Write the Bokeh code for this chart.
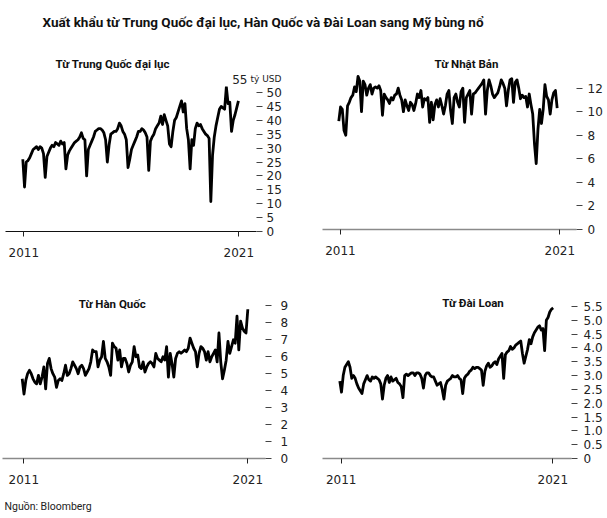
from bokeh.plotting import figure
from bokeh.models import Range1d, FixedTicker, Label
from bokeh.layouts import column, row
from bokeh.embed import file_html
from bokeh.resources import INLINE

TITLE = "Xuất khẩu từ Trung Quốc đại lục, Hàn Quốc và Đài Loan sang Mỹ bùng nổ"
SOURCE = "Nguồn: Bloomberg"
PANEL_TITLES = ["Từ Trung Quốc đại lục", "Từ Nhật Bản", "Từ Hàn Quốc", "Từ Đài Loan"]
X_TICK_LABELS = ["2011", "2021"]
UNIT_LABEL = "tỷ USD"

# monthly, Jan 2011 .. Jun 2021 (126 months), billion USD
months = [2011 + i / 12 for i in range(126)]

china = [
    26, 16, 25, 25.5, 26.5, 28, 29.5, 30, 30.5, 29.5, 30.5, 30,
    28, 19.5, 27, 28.5, 30, 31, 30.5, 32, 31.5, 31, 32.5, 31.5,
    32, 22.5, 27.5, 29, 30, 31, 32, 32.5, 33, 34, 35.5, 33.5,
    33, 20, 29.5, 31, 32.5, 34, 36, 36.5, 37, 37, 36.5, 35.5,
    33, 25, 31, 35, 35.5, 36, 36, 37, 39, 38, 36, 35,
    33, 23, 26, 29.5, 31, 32.5, 34, 36, 36, 37, 36.5, 35.5,
    34, 22, 32.5, 34, 35, 37, 38, 39, 41.5, 38.5, 42, 40,
    38, 31.5, 30.5, 36, 40, 41, 43, 45, 47, 43, 46, 37,
    33, 22.5, 33, 31, 37, 39, 38, 38.5, 37, 36, 35, 34.5,
    33.5, 10.8, 27.5, 34, 38, 41, 44, 45, 44.5, 44, 52, 46,
    46.5, 36, 40, 42, 44.5, 47,
]

japan = [
    9.2, 10.4, 10.2, 8.4, 8.0, 10.5, 10.8, 11.2, 11.4, 12.1, 11.7, 13.0,
    12.6, 10.0, 12.6, 12.3, 11.4, 12.0, 12.3, 11.5, 12.0, 12.1, 12.0, 12.2,
    11.8, 9.7, 11.5, 11.2, 11.0, 10.7, 11.2, 11.0, 11.4, 11.5, 12.0, 11.4,
    11.0, 10.0, 11.0, 10.5, 10.1, 10.8, 10.6, 10.1, 10.7, 11.5, 11.2, 11.8,
    10.4, 11.1, 11.0, 11.2, 9.1, 10.8, 9.3, 10.6, 11.0, 10.4, 11.1, 10.5,
    9.8, 10.5, 11.5, 11.8, 10.1, 9.0, 11.2, 11.5, 10.8, 10.4, 11.7, 12.0,
    9.1, 11.2, 11.5, 11.8, 9.8, 11.5, 11.6, 11.8, 12.0, 12.2, 12.4, 12.7,
    9.8, 11.8, 12.7, 12.2, 11.5, 11.2, 11.4, 11.6, 12.1, 12.7, 12.4, 12.0,
    10.5, 11.8, 12.7, 12.8, 10.8, 12.5, 12.7, 12.0, 11.1, 11.4, 11.2, 11.3,
    10.4, 11.5, 10.6, 9.8, 7.3, 5.6, 8.5, 10.2, 9.0, 10.2, 12.3, 11.3,
    11.0, 9.8, 11.0, 11.6, 11.8, 10.3,
]

korea = [
    4.7, 3.8, 4.6, 5.0, 5.2, 5.0, 4.7, 4.5, 4.4, 4.9, 4.4, 4.8,
    5.4, 4.1, 5.6, 5.9, 5.3, 5.0, 4.8, 4.2, 4.6, 4.7, 4.6, 5.0,
    5.5, 4.9, 5.0, 5.3, 5.7, 5.5, 5.3, 5.0, 5.4, 5.5, 5.3, 4.9,
    5.1, 5.3, 5.7, 6.4, 6.3, 6.3, 5.4, 5.8, 6.0, 6.9, 5.9, 5.7,
    5.4, 4.9, 6.8, 6.6, 6.5, 5.8, 6.4, 5.4, 5.9, 5.9, 5.6, 5.1,
    5.5, 5.7, 6.6, 6.0, 6.1, 5.4, 5.3, 5.7, 5.1, 5.4, 5.6, 5.7,
    5.6, 5.4, 6.2, 5.9, 5.8, 5.7, 6.0, 5.8, 6.6, 4.8, 6.2, 5.6,
    4.8, 5.9, 6.2, 6.3, 6.2, 6.3, 6.4, 6.3, 6.5, 7.1, 6.8, 6.5,
    6.3, 5.4, 6.2, 6.6, 6.5, 6.3, 5.8, 6.3, 5.7, 6.0, 6.2, 6.4,
    5.7, 7.4, 5.7, 4.7, 5.2, 5.8, 6.9, 6.2, 6.6, 7.0, 6.8, 8.4,
    6.4, 8.1, 7.7, 7.5, 7.4, 8.8,
]

taiwan = [
    2.8, 2.4, 3.0, 3.3, 3.4, 3.5, 3.3, 2.9, 3.0, 2.9, 2.7, 2.55,
    2.45, 2.35, 2.7, 2.85, 3.0, 2.85, 2.8, 2.95, 2.9, 2.95, 2.9, 2.85,
    2.7, 2.15, 2.65, 2.9, 3.0, 2.75, 2.95, 2.8, 2.85, 2.9, 2.75, 2.7,
    2.6, 2.2, 3.0, 3.05, 3.0, 3.05, 3.1, 3.1, 3.0, 3.1, 3.1, 3.05,
    2.9, 2.55, 3.0, 3.1, 3.1, 3.0, 2.95, 2.95, 2.8, 2.65, 2.7, 2.75,
    2.5, 2.15, 2.65, 2.8, 2.85, 2.9, 3.0, 2.95, 2.95, 3.0, 2.9, 2.85,
    2.35, 2.9, 3.0, 3.05, 3.15, 3.2, 3.3, 3.25, 3.3, 3.3, 3.25, 3.2,
    2.65, 3.15, 3.35, 3.45, 3.3, 3.35, 3.45, 3.5, 3.4, 3.6, 3.7, 3.8,
    2.9, 3.75, 3.85, 3.9, 4.05, 3.95, 4.0, 4.1, 4.15, 4.2, 4.25, 3.8,
    3.45, 3.7, 3.95, 4.3, 4.15, 4.4, 4.55, 4.65, 4.75, 4.8, 4.65, 4.7,
    3.9, 5.0, 5.1, 5.3, 5.4, 5.45,
]

china_ticks = [0, 5, 10, 15, 20, 25, 30, 35, 40, 45, 50]
china_tick_labels = ["0", "5", "10", "15", "20", "25", "30", "35", "40", "45", "50"]
china_top = 55
japan_ticks = [0, 2, 4, 6, 8, 10, 12]
japan_tick_labels = ["0", "2", "4", "6", "8", "10", "12"]
korea_ticks = [0, 1, 2, 3, 4, 5, 6, 7, 8, 9]
korea_tick_labels = ["0", "1", "2", "3", "4", "5", "6", "7", "8", "9"]
taiwan_ticks = [0, 0.5, 1, 1.5, 2, 2.5, 3, 3.5, 4, 4.5, 5, 5.5]
taiwan_tick_labels = ["0", "0.5", "1.0", "1.5", "2.0", "2.5", "3.0", "3.5", "4.0", "4.5", "5.0", "5.5"]

TICK_FONT = "DejaVu Sans"
TITLE_FONT = "Roboto"
TXT = "#222222"
FIX = 3.5  # labels render a little below the requested baseline


def strip(left, top, w, h):
    """A text-only figure whose data coordinates equal page pixels (y negated)."""
    f = figure(width=w, height=h, min_border=0,
               x_range=Range1d(left, left + w), y_range=Range1d(-(top + h), -top),
               x_axis_type=None, y_axis_type=None, toolbar_location=None,
               output_backend="svg")
    f.outline_line_color = None
    return f


def text(fig, x, y, s, font, size, bold=False):
    fig.add_layout(Label(x=x, y=y, text=s, text_font=font, text_font_size=size,
                         text_font_style="bold" if bold else "normal",
                         text_color="#111111" if bold else TXT,
                         text_align="left", text_baseline="alphabetic"))


def make_panel(values, ticks, tick_labels, spec):
    cl, cw, ct, ch = spec["canvas"]
    fl, fr, ft, fb = spec["frame"]
    x0, k, yb, s = spec["x0"], spec["k"], spec["yb"], spec["s"]

    def dx(px):
        return 2011 + (px - x0) / k / 12

    def dy(py):
        return (yb - py) / s

    p = figure(width=cw, height=ch,
               min_border_left=fl - cl, min_border_right=cl + cw - fr,
               min_border_top=ft - ct, min_border_bottom=ct + ch - fb,
               x_range=Range1d(dx(fl), dx(fr)), y_range=Range1d(0, dy(ft)),
               y_axis_location="right", toolbar_location=None,
               output_backend="svg")
    p.outline_line_color = None
    p.grid.visible = False

    p.line(months, values, line_width=2.8, line_color="black", line_join="round")

    xt = [dx(spec["xt"][0]), dx(spec["xt"][1])]
    xa = p.xaxis[0]
    xa.ticker = FixedTicker(ticks=xt)
    xa.major_label_overrides = {xt[0]: X_TICK_LABELS[0], xt[1]: X_TICK_LABELS[1]}
    xa.axis_line_color = spec["axis_color"]
    xa.axis_line_width = spec["axis_width"]
    xa.major_tick_line_color = "#222222"
    xa.major_tick_out = 5
    xa.major_tick_in = 0
    xa.minor_tick_line_color = None
    xa.major_label_standoff = 11
    xa.major_label_text_font = TICK_FONT
    xa.major_label_text_font_size = "12px"
    xa.major_label_text_color = TXT

    ya = p.yaxis[0]
    ya.ticker = FixedTicker(ticks=ticks)
    ya.major_label_overrides = {t: l for t, l in zip(ticks, tick_labels)}
    ya.axis_line_color = None
    ya.major_tick_line_color = "#444444"
    ya.major_tick_out = 6
    ya.major_tick_in = 0
    ya.minor_tick_line_color = None
    ya.major_label_standoff = spec["standoff"]
    ya.major_label_text_font = TICK_FONT
    ya.major_label_text_font_size = "12px"
    ya.major_label_text_color = TXT
    ya.major_label_text_align = "left"
    p._dx, p._dy = dx, dy
    return p


spec1 = dict(canvas=(0, 300, 86, 180), frame=(5, 256, 86, 231), x0=22.3, k=1.725,
             yb=231, s=2.78, xt=(23.3, 238.3), standoff=4, axis_color="#111111",
             axis_width=1)
spec2 = dict(canvas=(300, 306, 70, 196), frame=(322, 576, 70, 229), x0=338.3, k=1.747,
             yb=229, s=11.78, xt=(340, 559.3), standoff=5, axis_color="#8a8a8a",
             axis_width=1.5)
spec3 = dict(canvas=(0, 300, 266, 224), frame=(2, 265, 294, 458), x0=21.7, k=1.805,
             yb=458, s=16.96, xt=(23.3, 247.3), standoff=9, axis_color="#8a8a8a",
             axis_width=1.5)
spec4 = dict(canvas=(300, 306, 266, 224), frame=(322, 571, 294, 458), x0=339.3, k=1.707,
             yb=458, s=27.64, xt=(340.7, 552.3), standoff=6, axis_color="#8a8a8a",
             axis_width=1.5)

p1 = make_panel(china, china_ticks, china_tick_labels, spec1)
p2 = make_panel(japan, japan_ticks, japan_tick_labels, spec2)
p3 = make_panel(korea, korea_ticks, korea_tick_labels, spec3)
p4 = make_panel(taiwan, taiwan_ticks, taiwan_tick_labels, spec4)

# header with the main title
header = strip(0, 0, 606, 36)
text(header, 42, -(25 - FIX), TITLE, TITLE_FONT, "13.5px", bold=True)

# strips above the top panels (panel titles and the unit label)
t1 = strip(0, 36, 300, 50)
text(t1, 55, -(67 - FIX), PANEL_TITLES[0], TITLE_FONT, "11.5px", bold=True)
text(t1, 231.7, -(82.3 - FIX), str(china_top), TICK_FONT, "12px")
text(t1, 250, -(82.3 - FIX), UNIT_LABEL, TICK_FONT, "9px")

t2 = strip(300, 36, 306, 34)
text(t2, 434, -(66.5 - FIX), PANEL_TITLES[1], TITLE_FONT, "11.5px", bold=True)

# titles of the lower panels sit inside their frames
text(p3, p3._dx(78.3), p3._dy(307 - FIX), PANEL_TITLES[2], TITLE_FONT, "11.5px", bold=True)
text(p4, p4._dx(441.7), p4._dy(306 - FIX), PANEL_TITLES[3], TITLE_FONT, "11.5px", bold=True)

# footer with the source note
footer = strip(0, 490, 606, 27)
text(footer, 4, -(509 - FIX), SOURCE, "Roboto", "10.5px")

# panels are wrapped in their own rows so the text strips keep their full width
layout = column(
    header,
    row(column(t1, row(p1, spacing=0), spacing=0),
        column(t2, row(p2, spacing=0), spacing=0), spacing=0),
    row(p3, p4, spacing=0),
    footer,
    spacing=0,
)

open("out.html", "w").write(file_html(layout, INLINE))
